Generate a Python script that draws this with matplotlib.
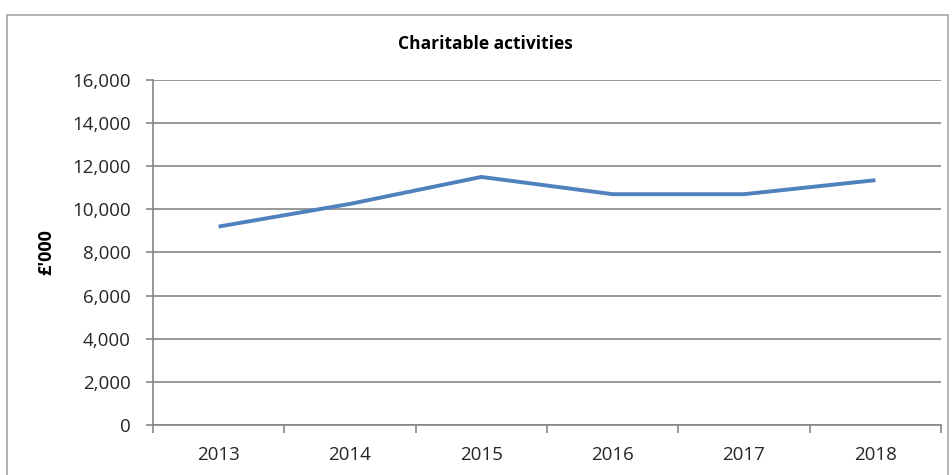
import matplotlib.pyplot as plt
from matplotlib.patches import Rectangle
from matplotlib.ticker import FuncFormatter, FixedLocator

years = ['2013', '2014', '2015', '2016', '2017', '2018']
values = [9200, 10250, 11500, 10700, 10700, 11350]
y_ticks = [0, 2000, 4000, 6000, 8000, 10000, 12000, 14000, 16000]

plt.rcParams['font.family'] = ['Open Sans', 'DejaVu Sans']

fig = plt.figure(figsize=(9.53, 4.75), dpi=100)
ax = fig.add_axes([0.1605, 0.105, 0.827, 0.727])

# outer chart border
fig.patches.append(Rectangle((7 / 953, -0.05), 941 / 953, 1.05 - 15 / 475,
                             transform=fig.transFigure, fill=False,
                             edgecolor='#a6a6a6', linewidth=1.2))

x = list(range(len(years)))
ax.plot(x, values, color='#4f81bd', linewidth=2.8, solid_capstyle='butt', zorder=3)

ax.set_xlim(-0.5, len(years) - 0.5)
ax.set_ylim(0, 16000)
ax.set_yticks(y_ticks)
ax.yaxis.set_major_formatter(FuncFormatter(lambda v, p: f'{int(v):,}'))
ax.set_xticks(x)
ax.set_xticklabels(years)
ax.xaxis.set_minor_locator(FixedLocator([i - 0.5 for i in range(len(years) + 1)]))
ax.tick_params(axis='x', which='major', length=0, pad=15, labelsize=13.5, labelcolor='#262626')
ax.tick_params(axis='x', which='minor', length=6, color='#868686', width=1.2)
ax.tick_params(axis='y', length=5, color='#868686', width=1.2, labelsize=13.5,
               labelcolor='#262626', pad=11)

ax.grid(axis='y', color='#868686', linewidth=1.2)
ax.set_axisbelow(True)
for s in ['top', 'right']:
    ax.spines[s].set_visible(False)
for s in ['left', 'bottom']:
    ax.spines[s].set_color('#868686')
    ax.spines[s].set_linewidth(1.2)

ax.set_ylabel("£'000", fontsize=13, fontweight='bold', labelpad=12)
fig.text(0.509, 0.908, 'Charitable activities', ha='center', va='center',
         fontsize=12.5, fontweight='bold')

fig.savefig('out.png', dpi=100)
